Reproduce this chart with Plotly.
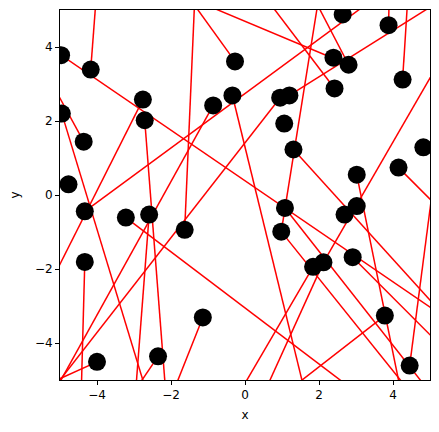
import plotly.graph_objects as go

# Scatter points (data coordinates)
pts_x = [-4.97, -4.17, -0.27, -2.76, -2.71, -0.86, -0.34, -4.95, -4.36, -4.77,
         2.64, 3.88, 2.39, 2.80, 4.26, 2.42, 0.95, 1.20, 1.06, 1.31,
         4.82, 3.02, 4.15, -4.33, -3.22, -2.59, -1.63, -4.33, -1.14, -4.00,
         -2.35, 1.08, 0.98, 2.69, 3.02, 1.84, 2.12, 2.91, 3.78, 4.45]
pts_y = [3.78, 3.39, 3.61, 2.58, 2.02, 2.42, 2.69, 2.20, 1.44, 0.29,
         4.88, 4.59, 3.71, 3.52, 3.12, 2.88, 2.63, 2.69, 1.93, 1.23,
         1.29, 0.55, 0.74, -0.44, -0.61, -0.53, -0.94, -1.81, -3.31, -4.51,
         -4.36, -0.35, -0.99, -0.53, -0.30, -1.94, -1.82, -1.68, -3.26, -4.61]

# Line segments: start and end points
seg_x0 = [-4.17, -5.50, -1.63, -0.27, -1.92, 1.20, 1.77, 3.75, 5.50, 5.05,
          -3.22, 3.88, -4.95, -5.50, -2.76, 4.26, -0.86, -0.34, 2.02, 0.95,
          1.31, 4.15, -2.71, -2.59, -1.14, -2.35, -4.33, -4.00, 3.02, 1.08,
          0.98, 1.84, 2.12, 3.78, 2.91, 0.43]
seg_y0 = [3.39, 4.14, -0.94, 3.61, 5.50, 2.69, 5.50, 5.50, 4.03, 0.00,
          -0.61, 4.59, 2.20, 3.53, 2.58, 3.12, 2.42, 2.69, 5.50, 2.63,
          1.23, 0.74, 2.02, -0.53, -3.31, -4.36, -1.81, -4.51, 0.55, -0.35,
          -0.99, -1.94, -1.82, -3.26, -1.68, 5.50]
seg_x1 = [-4.01, 5.50, -1.35, -1.63, 2.80, 5.50, 2.80, -4.33, 2.12, 4.45,
          3.23, 3.90, -2.61, -4.36, -5.50, 4.41, -5.25, 1.66, 0.98, -5.50,
          5.50, 5.50, -2.13, -2.97, -2.01, -3.12, -4.43, -5.50, 4.25, 5.13,
          4.60, -0.24, 0.45, 0.90, 5.50, 2.42]
seg_y1 = [5.50, -3.37, 5.50, 5.50, 3.52, 5.39, 3.52, -0.44, -1.82, -4.61,
          -5.50, 5.50, -5.50, 1.44, -2.86, 5.50, -5.50, -5.50, -0.99, -5.64,
          -3.39, -0.61, -5.50, -5.50, -5.50, -5.50, -5.50, -5.19, -5.50, -5.50,
          -5.50, -5.50, -5.50, -5.50, -4.28, 2.88]

tick_vals = [-4, -2, 0, 2, 4]

lx, ly = [], []
for a, b, c, d in zip(seg_x0, seg_y0, seg_x1, seg_y1):
    lx += [a, c, None]
    ly += [b, d, None]

fig = go.Figure()
fig.add_trace(go.Scatter(x=lx, y=ly, mode="lines",
                         line=dict(color="red", width=1.5),
                         hoverinfo="skip", showlegend=False))
fig.add_trace(go.Scatter(x=pts_x, y=pts_y, mode="markers",
                         marker=dict(color="black", size=18, line=dict(width=0)),
                         showlegend=False))

axis_common = dict(range=[-5, 5], tickvals=tick_vals, showgrid=False, zeroline=False,
                   showline=True, linecolor="black", linewidth=1, mirror=True,
                   ticks="outside", ticklen=4, tickwidth=1, tickcolor="black",
                   tickfont=dict(family="DejaVu Sans", size=12, color="black"),
                   fixedrange=True)

fig.update_layout(
    width=431, height=424,
    margin=dict(l=52, r=9, t=2, b=52),
    paper_bgcolor="white", plot_bgcolor="white",
    xaxis=dict(**axis_common, title=dict(text="x", font=dict(family="DejaVu Sans", size=12, color="black"), standoff=9)),
    yaxis=dict(**axis_common, title=dict(text="y", font=dict(family="DejaVu Sans", size=12, color="black"), standoff=12)),
)

fig.write_html("out.html")
